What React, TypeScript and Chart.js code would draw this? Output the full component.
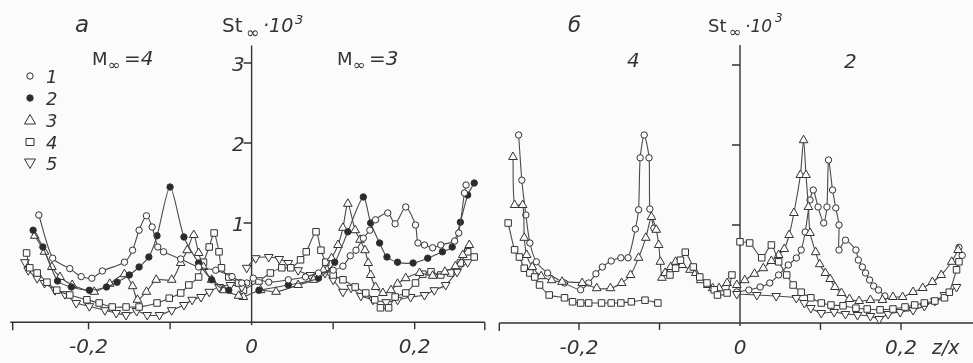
import { useEffect, useRef } from 'react';
import { Chart, registerables } from 'chart.js';
Chart.register(...registerables);

type P = [number, number];

// ---------- Panel а : M∞ = 4 (z < 0) ----------
const a4Open: P[] = [[-0.261,1.10],[-0.244,0.56],[-0.223,0.43],[-0.209,0.33],[-0.196,0.31],[-0.183,0.40],[-0.156,0.51],[-0.146,0.66],[-0.138,0.91],[-0.129,1.09],[-0.122,0.95],[-0.115,0.70],[-0.108,0.64],[-0.087,0.55],[-0.065,0.45],[-0.044,0.41],[-0.024,0.33],[-0.012,0.25]];
const a4Filled: P[] = [[-0.268,0.91],[-0.256,0.70],[-0.238,0.275],[-0.221,0.20],[-0.199,0.16],[-0.178,0.20],[-0.165,0.26],[-0.150,0.35],[-0.138,0.45],[-0.126,0.575],[-0.116,0.84],[-0.100,1.45],[-0.083,0.825],[-0.065,0.50],[-0.049,0.29],[-0.028,0.16]];
const a4Tri: P[] = [[-0.266,0.84],[-0.254,0.64],[-0.245,0.45],[-0.235,0.325],[-0.220,0.225],[-0.193,0.14],[-0.174,0.24],[-0.156,0.36],[-0.146,0.21],[-0.140,0.04],[-0.129,0.14],[-0.117,0.29],[-0.098,0.29],[-0.087,0.50],[-0.079,0.66],[-0.071,0.85],[-0.065,0.625],[-0.059,0.45],[-0.049,0.29],[-0.034,0.16],[-0.016,0.09]];
const a4Sq: P[] = [[-0.276,0.625],[-0.272,0.44],[-0.263,0.375],[-0.251,0.26],[-0.239,0.16],[-0.223,0.10],[-0.202,0.04],[-0.187,0.0],[-0.171,-0.05],[-0.154,-0.05],[-0.138,-0.05],[-0.116,0.0],[-0.101,0.06],[-0.087,0.125],[-0.077,0.225],[-0.065,0.325],[-0.059,0.51],[-0.052,0.70],[-0.046,0.875],[-0.040,0.64],[-0.037,0.44],[-0.028,0.325],[-0.016,0.25]];
const a4TriDown: P[] = [[-0.278,0.51],[-0.274,0.41],[-0.263,0.31],[-0.254,0.25],[-0.241,0.16],[-0.229,0.11],[-0.215,0.0],[-0.199,-0.04],[-0.180,-0.09],[-0.166,-0.125],[-0.154,-0.15],[-0.141,-0.10],[-0.128,-0.15],[-0.113,-0.15],[-0.098,-0.09],[-0.083,-0.025],[-0.073,0.04],[-0.062,0.075],[-0.052,0.14],[-0.040,0.20],[-0.026,0.225],[-0.012,0.20]];

// ---------- Panel а : M∞ = 3 (z > 0) ----------
const a3Open: P[] = [[-0.006,0.25],[0.002,0.31],[0.021,0.26],[0.045,0.29],[0.066,0.325],[0.082,0.375],[0.100,0.41],[0.112,0.46],[0.121,0.59],[0.128,0.66],[0.137,0.81],[0.145,0.91],[0.152,1.04],[0.167,1.125],[0.176,0.99],[0.189,1.20],[0.201,0.975],[0.204,0.75],[0.212,0.725],[0.222,0.69],[0.232,0.725],[0.249,0.775],[0.254,0.875],[0.261,1.375],[0.263,1.475]];
const a3Filled: P[] = [[0.009,0.16],[0.045,0.225],[0.082,0.31],[0.102,0.51],[0.118,0.89],[0.137,1.325],[0.146,1.0],[0.157,0.75],[0.166,0.575],[0.179,0.51],[0.198,0.50],[0.216,0.56],[0.234,0.64],[0.246,0.70],[0.256,1.01],[0.265,1.35],[0.273,1.50]];
const a3Tri: P[] = [[-0.010,0.075],[0.011,0.16],[0.030,0.14],[0.057,0.225],[0.076,0.29],[0.088,0.41],[0.098,0.56],[0.106,0.725],[0.112,0.94],[0.118,1.24],[0.127,0.91],[0.133,0.79],[0.139,0.66],[0.143,0.50],[0.146,0.35],[0.152,0.20],[0.161,0.125],[0.171,0.16],[0.179,0.24],[0.189,0.31],[0.206,0.375],[0.222,0.34],[0.237,0.39],[0.250,0.46],[0.259,0.60],[0.267,0.725]];
const a3Sq: P[] = [[-0.010,0.16],[0.009,0.275],[0.023,0.375],[0.037,0.44],[0.048,0.44],[0.060,0.54],[0.067,0.64],[0.079,0.89],[0.085,0.66],[0.091,0.51],[0.100,0.35],[0.112,0.29],[0.127,0.20],[0.140,0.125],[0.151,0.04],[0.158,-0.06],[0.168,-0.06],[0.176,0.075],[0.189,0.125],[0.201,0.25],[0.210,0.36],[0.220,0.39],[0.232,0.35],[0.244,0.375],[0.256,0.50],[0.265,0.64],[0.273,0.575]];
const a3TriDown: P[] = [[-0.006,0.44],[0.005,0.56],[0.021,0.575],[0.034,0.55],[0.045,0.50],[0.057,0.41],[0.072,0.35],[0.090,0.375],[0.100,0.29],[0.112,0.14],[0.122,0.19],[0.134,0.09],[0.149,0.04],[0.165,0.01],[0.179,0.04],[0.195,0.075],[0.212,0.10],[0.224,0.16],[0.238,0.225],[0.252,0.39],[0.265,0.51]];

// ---------- Panel б : M∞ = 4 (z < 0) ----------
const b4Open: P[] = [[-0.275,2.125],[-0.271,1.56],[-0.266,1.125],[-0.261,0.775],[-0.253,0.54],[-0.239,0.40],[-0.218,0.275],[-0.198,0.19],[-0.188,0.275],[-0.179,0.39],[-0.171,0.475],[-0.160,0.55],[-0.148,0.59],[-0.139,0.59],[-0.130,0.95],[-0.126,1.19],[-0.124,1.84],[-0.119,2.125],[-0.113,1.84],[-0.112,1.20],[-0.107,0.96]];
const b4Tri: P[] = [[-0.282,1.85],[-0.280,1.25],[-0.270,1.25],[-0.268,0.84],[-0.265,0.625],[-0.258,0.475],[-0.247,0.36],[-0.234,0.31],[-0.221,0.29],[-0.196,0.275],[-0.178,0.21],[-0.161,0.21],[-0.147,0.275],[-0.136,0.375],[-0.126,0.59],[-0.117,0.84],[-0.110,1.10],[-0.104,0.94],[-0.101,0.75],[-0.099,0.54],[-0.097,0.34],[-0.093,0.40],[-0.086,0.475],[-0.080,0.54],[-0.072,0.50],[-0.062,0.44],[-0.055,0.40],[-0.049,0.31],[-0.040,0.25],[-0.034,0.21],[-0.026,0.21],[-0.016,0.275]];
const b4Sq: P[] = [[-0.288,1.025],[-0.280,0.69],[-0.274,0.60],[-0.268,0.46],[-0.261,0.40],[-0.255,0.35],[-0.249,0.25],[-0.237,0.125],[-0.218,0.09],[-0.208,0.04],[-0.198,0.025],[-0.188,0.025],[-0.172,0.025],[-0.160,0.025],[-0.148,0.025],[-0.135,0.04],[-0.118,0.06],[-0.102,0.025]];
const b4Sq2: P[] = [[-0.087,0.375],[-0.080,0.46],[-0.074,0.56],[-0.068,0.66],[-0.058,0.475],[-0.050,0.35],[-0.041,0.275],[-0.032,0.19],[-0.028,0.125],[-0.016,0.15],[-0.010,0.375]];

// ---------- Panel б : M∞ = 2 (z > 0) ----------
const b2Open: P[] = [[-0.004,0.1625],[0.011,0.1875],[0.025,0.225],[0.037,0.275],[0.048,0.375],[0.060,0.50],[0.070,0.5875],[0.076,0.6875],[0.081,0.9125],[0.087,1.3125],[0.091,1.4375],[0.097,1.225],[0.104,1.025],[0.108,1.225],[0.110,1.8125],[0.115,1.4375],[0.119,1.2125],[0.123,1.00],[0.123,0.6875],[0.131,0.81],[0.144,0.6875],[0.147,0.5625],[0.152,0.475],[0.156,0.40],[0.161,0.3125],[0.166,0.2375],[0.172,0.1875],[0.180,0.1125]];
const b2OpenEnd: P[] = [[0.272,0.72],[0.276,0.62]];
const b2Tri: P[] = [[-0.004,0.25],[0.006,0.31],[0.018,0.39],[0.029,0.46],[0.039,0.55],[0.048,0.625],[0.055,0.70],[0.061,0.875],[0.067,1.15],[0.075,1.625],[0.079,2.06],[0.082,1.625],[0.085,1.225],[0.087,0.90],[0.094,0.66],[0.099,0.51],[0.106,0.40],[0.112,0.325],[0.118,0.225],[0.126,0.15],[0.136,0.075],[0.148,0.05],[0.162,0.0625],[0.177,0.0625],[0.190,0.10],[0.202,0.10],[0.215,0.1625],[0.227,0.2125],[0.239,0.2875],[0.250,0.375],[0.263,0.54],[0.271,0.6875]];
const b2Sq: P[] = [[0.0,0.79],[0.012,0.775],[0.027,0.59],[0.039,0.75],[0.048,0.54],[0.058,0.375],[0.066,0.25],[0.076,0.16],[0.088,0.09],[0.101,0.025],[0.113,0.0],[0.128,-0.01],[0.144,-0.04],[0.158,-0.05],[0.174,-0.06],[0.190,-0.05],[0.205,-0.025],[0.217,0.0],[0.229,0.025],[0.242,0.05],[0.254,0.09],[0.260,0.16],[0.269,0.44],[0.272,0.54]];
const b2TriDown: P[] = [[-0.004,0.1375],[0.021,0.125],[0.045,0.1125],[0.070,0.0875],[0.080,0.025],[0.088,-0.0375],[0.101,-0.10],[0.117,-0.0875],[0.131,-0.1125],[0.146,-0.125],[0.162,-0.1375],[0.173,-0.175],[0.184,-0.1125],[0.199,-0.0875],[0.215,-0.0625],[0.229,-0.0125],[0.242,0.05],[0.254,0.125],[0.269,0.225]];

// tick labels
const yTickValues = [1, 2, 3];
const yTickLabels = ['1', '2', '3'];
const xTickValues = [-0.2, -0.1, 0.1, 0.2];
const xLabelValues = [-0.2, 0, 0.2];
const xLabelTexts = ['-0,2', '0', '0,2'];
const legendLabels = ['1', '2', '3', '4', '5'];

type Kind = 'open' | 'filled' | 'tri' | 'sq' | 'tridown';

const BG = '#fbfbfb';
const INK = '#333333';
const LINE = '#4a4a4a';
const FONT = '"DejaVu Sans", sans-serif';

function styleFor(kind: Kind) {
  switch (kind) {
    case 'open': return { pointStyle: 'circle', pointRadius: 3.2, pointBackgroundColor: BG, pointRotation: 0 };
    case 'filled': return { pointStyle: 'circle', pointRadius: 3.2, pointBackgroundColor: '#2a2a2a', pointRotation: 0 };
    case 'tri': return { pointStyle: 'triangle', pointRadius: 5, pointBackgroundColor: BG, pointRotation: 0 };
    case 'sq': return { pointStyle: 'rect', pointRadius: 4.6, pointBackgroundColor: BG, pointRotation: 0 };
    case 'tridown': return { pointStyle: 'triangle', pointRadius: 5, pointBackgroundColor: BG, pointRotation: 180 };
  }
}

function ds(data: P[], kind: Kind, showLine = true) {
  return {
    data: data.map(([x, y]) => ({ x, y })),
    showLine,
    borderColor: LINE,
    borderWidth: 1.1,
    tension: 0.25,
    pointBorderColor: INK,
    pointBorderWidth: 1,
    clip: false as any,
    ...styleFor(kind),
  };
}

type TextItem = { t: string; x: number; y: number; f: string; a?: CanvasTextAlign };

type Panel = {
  left: number; width: number;
  area: { l: number; r: number; t: number; b: number };
  xMin: number; xMax: number; yMin: number; yMax: number;
  axisFrom: number; axisTo: number; yTop: number;
  endTicks: number[];
  yLabels: boolean;
  extraXText?: TextItem;
  texts: TextItem[];
  legend: boolean;
  datasets: any[];
};

function drawMarker(ctx: CanvasRenderingContext2D, kind: Kind, x: number, y: number) {
  ctx.save();
  ctx.strokeStyle = INK; ctx.lineWidth = 1; ctx.fillStyle = kind === 'filled' ? '#2a2a2a' : BG;
  ctx.beginPath();
  if (kind === 'open' || kind === 'filled') ctx.arc(x, y, 3.2, 0, Math.PI * 2);
  else if (kind === 'sq') ctx.rect(x - 4, y - 3.5, 8, 7);
  else if (kind === 'tri') { ctx.moveTo(x, y - 5.5); ctx.lineTo(x + 5.5, y + 4); ctx.lineTo(x - 5.5, y + 4); ctx.closePath(); }
  else { ctx.moveTo(x, y + 5.5); ctx.lineTo(x + 5.5, y - 4); ctx.lineTo(x - 5.5, y - 4); ctx.closePath(); }
  ctx.fill(); ctx.stroke();
  ctx.restore();
}

function axesPlugin(p: Panel) {
  return {
    id: 'axesDraw',
    beforeDraw(chart: any) {
      const ctx = chart.ctx as CanvasRenderingContext2D;
      ctx.save(); ctx.fillStyle = BG; ctx.fillRect(0, 0, chart.width, chart.height); ctx.restore();
    },
    beforeDatasetsDraw(chart: any) {
      const ctx = chart.ctx as CanvasRenderingContext2D;
      const xs = chart.scales.x, ys = chart.scales.y;
      const x0 = xs.getPixelForValue(0);
      const yb = ys.getPixelForValue(p.yMin);
      ctx.save();
      ctx.strokeStyle = INK; ctx.lineWidth = 1.4;
      ctx.beginPath();
      ctx.moveTo(xs.getPixelForValue(p.axisFrom), yb); ctx.lineTo(xs.getPixelForValue(p.axisTo), yb);
      for (const v of p.endTicks) { const px = xs.getPixelForValue(v); ctx.moveTo(px, yb); ctx.lineTo(px, yb + 8); }
      for (const v of xTickValues) { const px = xs.getPixelForValue(v); ctx.moveTo(px, yb); ctx.lineTo(px, yb + 7); }
      ctx.moveTo(x0, ys.getPixelForValue(p.yTop)); ctx.lineTo(x0, yb + 3);
      for (const v of yTickValues) { const py = ys.getPixelForValue(v); ctx.moveTo(x0 - 8, py); ctx.lineTo(x0, py); }
      ctx.stroke();

      ctx.fillStyle = INK;
      ctx.font = `italic 20px ${FONT}`;
      ctx.textAlign = 'center'; ctx.textBaseline = 'alphabetic';
      xLabelValues.forEach((v, i) => ctx.fillText(xLabelTexts[i], xs.getPixelForValue(v), yb + 31));
      if (p.yLabels) {
        ctx.textAlign = 'right';
        yTickValues.forEach((v, i) => ctx.fillText(yTickLabels[i], x0 - 7, ys.getPixelForValue(v) + 8));
      }
      for (const it of [...p.texts, ...(p.extraXText ? [p.extraXText] : [])]) {
        ctx.font = it.f; ctx.textAlign = it.a || 'left';
        ctx.fillText(it.t, it.x - p.left, it.y);
      }
      if (p.legend) {
        const kinds: Kind[] = ['open', 'filled', 'tri', 'sq', 'tridown'];
        const rows = [76, 98, 120, 142, 163];
        ctx.font = `italic 18px ${FONT}`; ctx.textAlign = 'left';
        kinds.forEach((k, i) => {
          drawMarker(ctx, k, 30, rows[i]);
          ctx.fillStyle = INK;
          ctx.fillText(legendLabels[i], 46, rows[i] + 7);
        });
      }
      ctx.restore();
    },
  };
}

const panels: Panel[] = [
  {
    left: 0, width: 490,
    area: { l: 7, r: 486.7, t: 47, b: 322.2 },
    xMin: -0.3, xMax: 0.285, yMin: -0.24, yMax: 3.2,
    axisFrom: -0.296, axisTo: 0.286, yTop: 3.22,
    endTicks: [-0.293, 0.286],
    yLabels: true,
    legend: true,
    texts: [
      { t: 'а', x: 75, y: 32, f: `italic 23px ${FONT}` },
      { t: 'St', x: 222, y: 32, f: `20px ${FONT}` },
      { t: '∞', x: 246, y: 38, f: `16px ${FONT}` },
      { t: '·10', x: 263, y: 32, f: `italic 19px ${FONT}` },
      { t: '3', x: 295, y: 24, f: `italic 13px ${FONT}` },
      { t: 'M', x: 92, y: 65, f: `18px ${FONT}` },
      { t: '∞', x: 108, y: 70, f: `15px ${FONT}` },
      { t: '=4', x: 124, y: 65, f: `italic 20px ${FONT}` },
      { t: 'M', x: 337, y: 65, f: `18px ${FONT}` },
      { t: '∞', x: 353, y: 70, f: `15px ${FONT}` },
      { t: '=3', x: 369, y: 65, f: `italic 20px ${FONT}` },
    ],
    datasets: [
      ds(a4Open, 'open'), ds(a4Filled, 'filled'), ds(a4Tri, 'tri'), ds(a4Sq, 'sq'), ds(a4TriDown, 'tridown'),
      ds(a3Open, 'open'), ds(a3Filled, 'filled'), ds(a3Tri, 'tri'), ds(a3Sq, 'sq'), ds(a3TriDown, 'tridown'),
    ],
  },
  {
    left: 490, width: 483,
    area: { l: 8.5, r: 482.8, t: 49, b: 323 },
    xMin: -0.3, xMax: 0.282, yMin: -0.225, yMax: 3.2,
    axisFrom: -0.299, axisTo: 0.3, yTop: 3.25,
    endTicks: [-0.299],
    yLabels: false,
    legend: false,
    extraXText: { t: 'z/x', x: 932, y: 354, f: `italic 19px ${FONT}` },
    texts: [
      { t: 'б', x: 568, y: 32, f: `italic 21px ${FONT}` },
      { t: 'St', x: 708, y: 32, f: `18px ${FONT}` },
      { t: '∞', x: 729, y: 37, f: `15px ${FONT}` },
      { t: '·10', x: 745, y: 32, f: `italic 17px ${FONT}` },
      { t: '3', x: 775, y: 22, f: `italic 12px ${FONT}` },
      { t: '4', x: 627, y: 67, f: `italic 20px ${FONT}` },
      { t: '2', x: 844, y: 68, f: `italic 20px ${FONT}` },
    ],
    datasets: [
      ds(b4Sq, 'sq'), ds(b4Sq2, 'sq'), ds(b4Tri, 'tri'), ds(b4Open, 'open'),
      ds(b2Sq, 'sq'), ds(b2TriDown, 'tridown'), ds(b2Tri, 'tri'), ds(b2Open, 'open'), ds(b2OpenEnd, 'open', false),
    ],
  },
];

function PanelChart({ p }: { p: Panel }) {
  const ref = useRef<HTMLCanvasElement>(null);
  useEffect(() => {
    const canvas = ref.current!;
    const H = 363;
    const chart = new Chart(canvas, {
      type: 'scatter',
      data: { datasets: p.datasets },
      options: {
        responsive: false,
        animation: false,
        devicePixelRatio: 1,
        layout: { padding: { left: p.area.l, right: p.width - p.area.r, top: p.area.t, bottom: H - p.area.b } },
        scales: {
          x: { type: 'linear', min: p.xMin, max: p.xMax, display: false },
          y: { type: 'linear', min: p.yMin, max: p.yMax, display: false },
        },
        plugins: { legend: { display: false }, tooltip: { enabled: false } },
      },
      plugins: [axesPlugin(p)],
    } as any);
    return () => chart.destroy();
  }, [p]);
  return (
    <canvas ref={ref} width={p.width} height={363}
      style={{ position: 'absolute', left: p.left, top: 0, width: p.width, height: 363 }} />
  );
}

export default function App() {
  return (
    <div style={{ position: 'fixed', left: 0, top: 0, width: 973, height: 363, background: BG, overflow: 'hidden' }}>
      {panels.map((p, i) => <PanelChart key={i} p={p} />)}
    </div>
  );
}
